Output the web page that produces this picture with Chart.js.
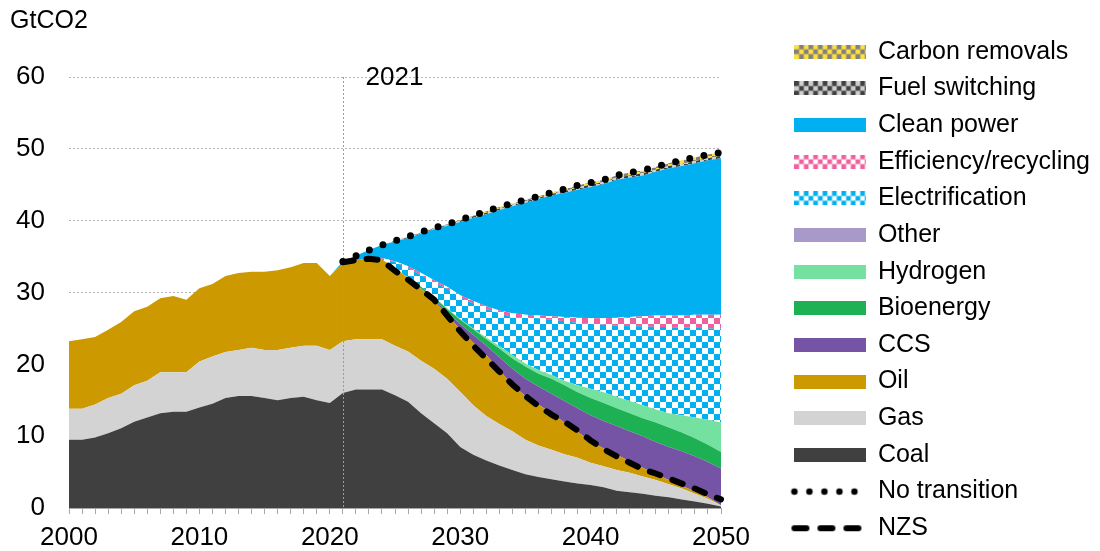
<!DOCTYPE html>
<html>
<head>
<meta charset="utf-8">
<script src="https://cdn.jsdelivr.net/npm/chart.js@4.4.1/dist/chart.umd.min.js"></script>
<style>
  html, body { margin: 0; padding: 0; background: #fff; }
</style>
</head>
<body>
<canvas id="chart" width="1100" height="551"></canvas>
<script>
// Categories (years)
const years = [2000, 2001, 2002, 2003, 2004, 2005, 2006, 2007, 2008, 2009,
  2010, 2011, 2012, 2013, 2014, 2015, 2016, 2017, 2018, 2019,
  2020, 2021, 2022, 2023, 2024, 2025, 2026, 2027, 2028, 2029,
  2030, 2031, 2032, 2033, 2034, 2035, 2036, 2037, 2038, 2039,
  2040, 2041, 2042, 2043, 2044, 2045, 2046, 2047, 2048, 2049, 2050];

// Stacked areas, GtCO2 (bottom to top)
const coal = [9.5, 9.5, 9.8, 10.4, 11.1, 12.0, 12.6, 13.2, 13.4, 13.4, 14.0, 14.5, 15.3, 15.6, 15.6, 15.3, 15.0, 15.3, 15.5, 15.0, 14.6,
  16.0, 16.5, 16.5, 16.5, 15.7, 14.8, 13.2, 11.8, 10.4, 8.5, 7.4, 6.6, 5.9, 5.3, 4.7, 4.3, 4.0, 3.7, 3.4, 3.2, 2.9, 2.4, 2.2, 2.0, 1.7, 1.5, 1.2, 0.9, 0.6, 0.2];
const gas = [4.3, 4.3, 4.6, 4.9, 4.8, 5.1, 5.1, 5.7, 5.5, 5.5, 6.4, 6.6, 6.4, 6.4, 6.7, 6.7, 7.0, 7.0, 7.1, 7.6, 7.4,
  7.2, 7.0, 7.0, 7.0, 6.9, 7.0, 7.3, 7.6, 7.6, 7.7, 6.9, 6.2, 5.8, 5.4, 4.8, 4.4, 4.1, 3.8, 3.6, 3.1, 2.9, 2.9, 2.7, 2.4, 2.2, 1.8, 1.5, 1.1, 0.7, 0.15];
const oil = [9.4, 9.7, 9.4, 9.5, 10.0, 10.3, 10.3, 10.3, 10.6, 10.1, 10.2, 10.1, 10.6, 10.7, 10.6, 10.9, 11.1, 11.2, 11.5, 11.5, 10.3,
  10.8, 11.0, 11.2, 11.1, 10.8, 10.2, 10.0, 9.4, 8.9, 8.7, 8.7, 8.5, 7.5, 6.4, 6.1, 5.7, 5.1, 4.4, 3.6, 3.0, 2.5, 2.1, 1.6, 1.2, 0.8, 0.6, 0.4, 0.3, 0.2, 0.05];
const ccs = [0, 0, 0, 0, 0, 0, 0, 0, 0, 0, 0, 0, 0, 0, 0, 0, 0, 0, 0, 0, 0,
  0, 0, 0, 0, 0, 0, 0.1, 0.2, 0.4, 0.7, 1.1, 1.3, 1.8, 2.3, 2.4, 2.5, 2.7, 3.0, 3.3, 3.6, 3.8, 4.0, 4.2, 4.4, 4.5, 4.6, 4.8, 4.9, 4.9, 5.1];
const bioenergy = [0, 0, 0, 0, 0, 0, 0, 0, 0, 0, 0, 0, 0, 0, 0, 0, 0, 0, 0, 0, 0,
  0, 0, 0, 0, 0, 0.1, 0.2, 0.3, 0.4, 0.6, 0.8, 0.9, 1.2, 1.4, 1.7, 1.8, 2.1, 2.2, 2.2, 2.4, 2.5, 2.5, 2.5, 2.5, 2.7, 2.7, 2.6, 2.5, 2.4, 2.3];
const hydrogen = [0, 0, 0, 0, 0, 0, 0, 0, 0, 0, 0, 0, 0, 0, 0, 0, 0, 0, 0, 0, 0,
  0, 0, 0, 0, 0, 0, 0, 0.05, 0.1, 0.1, 0.1, 0.25, 0.35, 0.5, 0.4, 0.5, 0.5, 0.6, 1.0, 1.3, 1.5, 1.6, 1.7, 1.8, 1.8, 2.0, 2.4, 2.9, 3.5, 4.1];
const other = [0, 0, 0, 0, 0, 0, 0, 0, 0, 0, 0, 0, 0, 0, 0, 0, 0, 0, 0, 0, 0,
  0, 0, 0, 0, 0, 0, 0, 0, 0, 0, 0, 0, 0, 0, 0, 0, 0, 0, 0, 0, 0, 0, 0, 0, 0, 0, 0, 0, 0, 0];
const electrification = [0, 0, 0, 0, 0, 0, 0, 0, 0, 0, 0, 0, 0, 0, 0, 0, 0, 0, 0, 0, 0,
  0, 0, 0, 0.1, 0.8, 1.3, 1.6, 2.05, 2.7, 3.0, 3.5, 3.95, 4.55, 5.3, 6.4, 7.2, 7.7, 8.3, 8.7, 9.0, 9.4, 9.9, 10.4, 11.0, 11.5, 12.0, 12.2, 12.5, 12.7, 13.1];
const efficiency = [0, 0, 0, 0, 0, 0, 0, 0, 0, 0, 0, 0, 0, 0, 0, 0, 0, 0, 0, 0, 0,
  0, 0, 0, 0.1, 0.15, 0.25, 0.3, 0.3, 0.3, 0.3, 0.3, 0.4, 0.4, 0.5, 0.4, 0.4, 0.5, 0.6, 0.7, 0.8, 0.9, 1.1, 1.3, 1.4, 1.6, 1.6, 1.7, 1.8, 1.9, 1.9];
const cleanPower = [0, 0, 0, 0, 0, 0, 0, 0, 0, 0, 0, 0, 0, 0, 0, 0, 0, 0, 0, 0, 0,
  0.3, 0.6, 1.2, 1.8, 2.75, 3.95, 5.5, 7.1, 8.5, 10.2, 11.6, 12.8, 14.0, 14.9, 15.6, 16.2, 16.8, 17.3, 17.8, 18.3, 18.7, 19.2, 19.4, 19.6, 20.0, 20.5, 20.8, 21.1, 21.5, 21.8];
const fuelSwitching = [0, 0, 0, 0, 0, 0, 0, 0, 0, 0, 0, 0, 0, 0, 0, 0, 0, 0, 0, 0, 0,
  0, 0, 0, 0, 0.1, 0.1, 0.1, 0.1, 0.1, 0.2, 0.2, 0.2, 0.2, 0.2, 0.2, 0.2, 0.2, 0.2, 0.3, 0.3, 0.3, 0.3, 0.3, 0.3, 0.3, 0.3, 0.3, 0.3, 0.3, 0.3];
const carbonRemovals = [0, 0, 0, 0, 0, 0, 0, 0, 0, 0, 0, 0, 0, 0, 0, 0, 0, 0, 0, 0, 0,
  0, 0, 0, 0, 0, 0.1, 0.1, 0.1, 0.1, 0.1, 0.1, 0.2, 0.2, 0.2, 0.2, 0.2, 0.2, 0.3, 0.3, 0.3, 0.3, 0.3, 0.4, 0.4, 0.4, 0.4, 0.5, 0.5, 0.5, 0.5];

// Scenario lines
const noTransition = [null, null, null, null, null, null, null, null, null, null, null, null, null, null, null, null, null, null, null, null, null,
  34.3, 35.1, 35.9, 36.6, 37.2, 37.8, 38.4, 39.0, 39.5, 40.1, 40.7, 41.3, 41.9, 42.4, 42.9, 43.4, 43.9, 44.4, 44.9, 45.3, 45.7, 46.3, 46.7, 47.0, 47.5, 48.0, 48.4, 48.8, 49.2, 49.5];
const nzs = [null, null, null, null, null, null, null, null, null, null, null, null, null, null, null, null, null, null, null, null, null,
  34.2, 34.5, 34.7, 34.5, 33.0, 31.8, 30.4, 29.0, 26.8, 24.6, 22.6, 20.8, 19.0, 17.2, 15.6, 14.2, 13.0, 12.0, 10.8, 9.4, 8.2, 7.2, 6.3, 5.4, 4.8, 4.1, 3.4, 2.7, 1.9, 1.2];

const yTicks = [0, 10, 20, 30, 40, 50, 60];
const markerYear = 2021;

const FONT = '"Liberation Sans", Arial, Helvetica, sans-serif';
Chart.defaults.font.family = FONT;
Chart.defaults.color = '#000';

// checker fills
function checkerPattern(c1, c2, size) {
  const cv = document.createElement('canvas');
  cv.width = cv.height = size * 2;
  const g = cv.getContext('2d');
  g.fillStyle = c2;
  g.fillRect(0, 0, size * 2, size * 2);
  g.fillStyle = c1;
  g.fillRect(0, 0, size, size);
  g.fillRect(size, size, size, size);
  return g.createPattern(cv, 'repeat');
}

function swatch(c1, c2, size) {
  const cv = document.createElement('canvas');
  cv.width = 72; cv.height = 14;
  const g = cv.getContext('2d');
  if (!c2) {
    g.fillStyle = c1;
    g.fillRect(0, 0, 72, 14);
    return cv;
  }
  g.fillStyle = c2;
  g.fillRect(0, 0, 72, 14);
  g.fillStyle = c1;
  for (let r = 0; r * size < 14; r++) {
    for (let c = 0; c * size < 72; c++) {
      if ((r + c) % 2 === 0) g.fillRect(c * size, r * size, size, size);
    }
  }
  return cv;
}

function lineSwatch(dash, width, end) {
  const cv = document.createElement('canvas');
  cv.width = 80; cv.height = 14;
  const g = cv.getContext('2d');
  g.strokeStyle = '#000';
  g.lineWidth = width;
  g.lineCap = 'round';
  g.setLineDash(dash);
  g.beginPath();
  g.moveTo(4, 7);
  g.lineTo(end, 7);
  g.stroke();
  return cv;
}

const styles = {
  'Coal':                 { fill: '#404040', sw: swatch('#404040') },
  'Gas':                  { fill: '#D3D3D3', sw: swatch('#D3D3D3') },
  'Oil':                  { fill: '#CC9900', sw: swatch('#CC9900') },
  'CCS':                  { fill: '#7554A6', sw: swatch('#7554A6') },
  'Bioenergy':            { fill: '#1DB154', sw: swatch('#1DB154') },
  'Hydrogen':             { fill: '#75E1A0', sw: swatch('#75E1A0') },
  'Other':                { fill: '#A899C9', sw: swatch('#A899C9') },
  'Electrification':      { fill: checkerPattern('#00B0F0', '#FFFFFF', 6), sw: swatch('#00B0F0', '#FFFFFF', 4.7) },
  'Efficiency/recycling': { fill: checkerPattern('#F0609E', '#FFFFFF', 6), sw: swatch('#F0609E', '#FFFFFF', 4.7) },
  'Clean power':          { fill: '#00B0F0', sw: swatch('#00B0F0') },
  'Fuel switching':       { fill: checkerPattern('#404040', '#D0D0D0', 4), sw: swatch('#404040', '#D0D0D0', 4.7) },
  'Carbon removals':      { fill: checkerPattern('#FFE040', '#808080', 4), sw: swatch('#FFE040', '#808080', 4.7) },
  'No transition':        { sw: lineSwatch([0, 15], 6.5, 64.5) },
  'NZS':                  { sw: lineSwatch([12, 14], 6, 68) }
};

const areaSeries = [
  ['Coal', coal], ['Gas', gas], ['Oil', oil], ['CCS', ccs], ['Bioenergy', bioenergy],
  ['Hydrogen', hydrogen], ['Other', other], ['Electrification', electrification],
  ['Efficiency/recycling', efficiency], ['Clean power', cleanPower],
  ['Fuel switching', fuelSwitching], ['Carbon removals', carbonRemovals]
];

const legendOrder = ['Carbon removals', 'Fuel switching', 'Clean power', 'Efficiency/recycling',
  'Electrification', 'Other', 'Hydrogen', 'Bioenergy', 'CCS', 'Oil', 'Gas', 'Coal', 'No transition', 'NZS'];

// lines first so they are painted last (on top)
const datasets = [
  {
    label: 'No transition', data: noTransition, stack: 'nt', fill: false,
    borderColor: '#000', borderWidth: 7, borderDash: [0, 14.5], borderCapStyle: 'round',
    pointRadius: 0
  },
  {
    label: 'NZS', data: nzs, stack: 'nzs', fill: false,
    borderColor: '#000', borderWidth: 6, borderDash: [11, 13], borderCapStyle: 'round',
    pointRadius: 0
  }
].concat(areaSeries.map(([label, data], i) => ({
  label: label,
  data: data,
  stack: 'areas',
  fill: i === 0 ? 'origin' : '-1',
  backgroundColor: styles[label].fill,
  borderColor: 'transparent',
  borderWidth: 0,
  pointRadius: 0
})));

// dotted 2021 marker + label
const markerPlugin = {
  id: 'marker',
  beforeDatasetDraw(chart, args) {
    if (args.index !== 1) return;
    const ctx = chart.ctx;
    const area = chart.chartArea;
    const x = Math.round(chart.scales.x.getPixelForValue(years.indexOf(markerYear))) + 0.5;
    ctx.save();
    ctx.strokeStyle = '#9a9a9a';
    ctx.lineWidth = 1;
    ctx.setLineDash([2, 2]);
    ctx.beginPath();
    ctx.moveTo(x, area.top);
    ctx.lineTo(x, area.bottom);
    ctx.stroke();
    ctx.setLineDash([]);
    ctx.fillStyle = '#000';
    ctx.font = '26px ' + FONT;
    ctx.textAlign = 'left';
    ctx.textBaseline = 'middle';
    ctx.fillText(String(markerYear), x + 22, area.top + 1);
    ctx.restore();
  }
};

new Chart(document.getElementById('chart'), {
  type: 'line',
  data: { labels: years, datasets: datasets },
  options: {
    responsive: false,
    animation: false,
    devicePixelRatio: 1,
    events: [],
    // negative bottom padding gives the legend column a little extra room
    layout: { padding: { left: 10, right: 0, top: 0, bottom: -4 } },
    elements: { line: { tension: 0 }, point: { radius: 0 } },
    scales: {
      x: {
        type: 'category',
        offset: false,
        grid: { display: true, drawOnChartArea: false, drawTicks: true, tickLength: 6, color: '#a6a6a6' },
        border: { display: true, color: '#a6a6a6', width: 1 },
        ticks: {
          autoSkip: false, maxRotation: 0, padding: 8, color: '#000',
          font: { size: 26 },
          callback: (v, i) => (years[i] % 10 === 0 ? String(years[i]) : '')
        },
        afterFit: s => { s.height = 47; }
      },
      y: {
        stacked: true,
        min: yTicks[0], max: yTicks[yTicks.length - 1],
        ticks: { stepSize: 10, padding: 24, color: '#000', font: { size: 26 } },
        grid: { color: '#b5b5b5', lineWidth: 1, drawTicks: false },
        border: { display: false, dash: [2, 2] },
        afterFit: s => { s.width = 59; }
      },
      // spacer between plot and legend
      yR: {
        position: 'right',
        display: true,
        grid: { display: false },
        ticks: { display: false },
        border: { display: false },
        afterFit: s => { s.width = Math.max(0, 379 - s.chart.legend.width); }
      }
    },
    plugins: {
      tooltip: { enabled: false },
      title: {
        display: true, text: 'GtCO2', align: 'start', color: '#000',
        font: { size: 25, weight: 'normal', lineHeight: 1.2 },
        padding: { top: 6, bottom: 41 }
      },
      legend: {
        position: 'right',
        align: 'start',
        maxWidth: 420,
        title: { display: true, text: ' ', padding: { top: 17.5, bottom: 0 }, font: { size: 10, lineHeight: 1 } },
        labels: {
          usePointStyle: true,
          pointStyleWidth: 70,
          boxHeight: 14,
          padding: 11.66,
          color: '#000',
          font: { size: 25 },
          generateLabels: chart => legendOrder.map(name => ({
            text: name,
            pointStyle: styles[name].sw,
            fillStyle: 'transparent',
            strokeStyle: 'transparent',
            lineWidth: 0,
            hidden: false,
            fontColor: '#000',
            datasetIndex: chart.data.datasets.findIndex(d => d.label === name)
          }))
        }
      }
    }
  },
  plugins: [markerPlugin]
});
</script>
</body>
</html>
